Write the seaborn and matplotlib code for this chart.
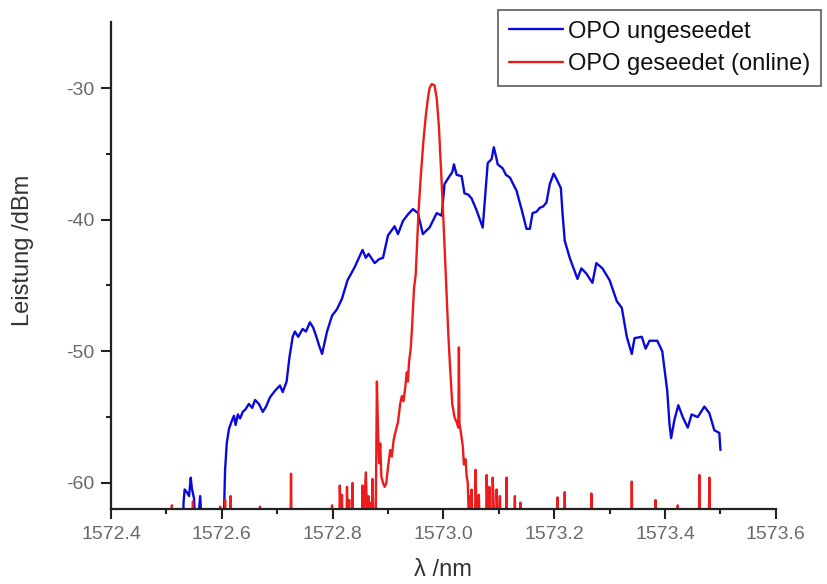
import numpy as np
import pandas as pd
import matplotlib
matplotlib.use("Agg")
import matplotlib.pyplot as plt
from matplotlib.ticker import MultipleLocator, FormatStrFormatter
from matplotlib.lines import Line2D
import seaborn as sns

# OPO ungeseedet (blue), wavelength in nm / power in dBm, -64 = below the plot floor
blue_nm = [1572.520, 1572.530, 1572.531, 1572.533, 1572.537, 1572.541, 1572.544, 1572.546,
           1572.550, 1572.553, 1572.558, 1572.561, 1572.563, 1572.566, 1572.603, 1572.606,
           1572.609, 1572.613, 1572.618, 1572.622, 1572.625, 1572.629, 1572.633, 1572.638,
           1572.643, 1572.649, 1572.655, 1572.660, 1572.667, 1572.674, 1572.680, 1572.687,
           1572.696, 1572.705, 1572.710, 1572.717, 1572.722, 1572.728, 1572.732, 1572.738,
           1572.746, 1572.752, 1572.759, 1572.765, 1572.770, 1572.776, 1572.781, 1572.790,
           1572.799, 1572.808, 1572.817, 1572.827, 1572.840, 1572.854, 1572.860, 1572.865,
           1572.876, 1572.884, 1572.891, 1572.900, 1572.912, 1572.918, 1572.927, 1572.936,
           1572.945, 1572.954, 1572.963, 1572.970, 1572.975, 1572.988, 1572.997, 1573.002,
           1573.011, 1573.016, 1573.019, 1573.024, 1573.033, 1573.038, 1573.045, 1573.051,
           1573.060, 1573.071, 1573.074, 1573.078, 1573.080, 1573.087, 1573.091, 1573.095,
           1573.098, 1573.107, 1573.113, 1573.120, 1573.132, 1573.141, 1573.150, 1573.156,
           1573.161, 1573.168, 1573.174, 1573.180, 1573.186, 1573.192, 1573.199, 1573.204,
           1573.212, 1573.215, 1573.219, 1573.228, 1573.242, 1573.249, 1573.258, 1573.269,
           1573.276, 1573.287, 1573.300, 1573.313, 1573.322, 1573.331, 1573.340, 1573.345,
           1573.358, 1573.365, 1573.372, 1573.386, 1573.395, 1573.404, 1573.408, 1573.411,
           1573.417, 1573.424, 1573.432, 1573.441, 1573.448, 1573.459, 1573.471, 1573.480,
           1573.489, 1573.498, 1573.500]
blue_dbm = [-64.0, -64.0, -61.5, -60.5, -60.7, -61.0, -59.6, -60.4,
            -61.2, -64.0, -62.5, -61.0, -62.5, -64.0, -64.0, -59.0,
            -57.0, -55.9, -55.3, -54.9, -55.6, -54.8, -55.1, -54.6,
            -54.4, -54.0, -54.3, -53.7, -54.0, -54.6, -54.2, -53.5,
            -53.0, -52.6, -53.1, -52.3, -50.5, -48.9, -48.5, -48.9,
            -48.3, -48.5, -47.8, -48.2, -48.8, -49.6, -50.2, -48.5,
            -47.3, -46.8, -46.0, -44.6, -43.6, -42.3, -42.9, -42.6,
            -43.3, -43.0, -42.9, -41.2, -40.5, -41.1, -40.1, -39.6,
            -39.2, -39.5, -41.1, -40.8, -40.6, -39.5, -39.7, -37.3,
            -36.7, -36.4, -35.8, -36.6, -36.7, -38.0, -38.1, -38.4,
            -39.3, -40.6, -39.0, -36.8, -35.7, -35.4, -34.5, -35.2,
            -35.8, -36.1, -36.6, -36.8, -37.8, -39.2, -40.7, -40.7,
            -39.5, -39.4, -39.1, -39.0, -38.7, -37.3, -36.5, -36.9,
            -37.6, -39.5, -41.6, -42.9, -44.5, -43.7, -44.1, -44.8,
            -43.3, -43.7, -44.6, -46.2, -46.7, -48.9, -50.2, -49.0,
            -48.9, -49.8, -49.2, -49.2, -50.0, -53.0, -55.5, -56.6,
            -55.2, -54.1, -55.0, -55.8, -54.8, -55.0, -54.2, -54.7,
            -56.0, -56.2, -57.5]

# OPO geseedet (online) (red)
red_nm = [1572.500, 1572.509, 1572.510, 1572.511, 1572.547, 1572.548, 1572.549,
          1572.596, 1572.597, 1572.598, 1572.605, 1572.606, 1572.607, 1572.615, 1572.616,
          1572.617, 1572.668, 1572.669, 1572.670, 1572.724, 1572.725, 1572.726, 1572.798,
          1572.799, 1572.800, 1572.812, 1572.813, 1572.815, 1572.817, 1572.818, 1572.825,
          1572.826, 1572.828, 1572.830, 1572.831, 1572.835, 1572.836, 1572.837, 1572.853,
          1572.854, 1572.856, 1572.860, 1572.862, 1572.865, 1572.867, 1572.869, 1572.871,
          1572.872, 1572.874, 1572.878, 1572.880, 1572.882, 1572.884, 1572.886, 1572.888,
          1572.891, 1572.894, 1572.897, 1572.900, 1572.904, 1572.907, 1572.910, 1572.913,
          1572.918, 1572.922, 1572.925, 1572.928, 1572.931, 1572.934, 1572.936, 1572.938,
          1572.941, 1572.943, 1572.945, 1572.947, 1572.950, 1572.955, 1572.959, 1572.964,
          1572.968, 1572.972, 1572.975, 1572.979, 1572.984, 1572.988, 1572.992, 1572.995,
          1572.997, 1573.000, 1573.003, 1573.006, 1573.009, 1573.012, 1573.016, 1573.020,
          1573.024, 1573.027, 1573.028, 1573.029, 1573.031, 1573.033, 1573.035, 1573.037,
          1573.040, 1573.042, 1573.044, 1573.046, 1573.048, 1573.050, 1573.051, 1573.053,
          1573.057, 1573.058, 1573.060, 1573.063, 1573.064, 1573.066, 1573.077, 1573.078,
          1573.080, 1573.082, 1573.083, 1573.085, 1573.088, 1573.089, 1573.091, 1573.095,
          1573.096, 1573.098, 1573.101, 1573.102, 1573.104, 1573.113, 1573.114, 1573.115,
          1573.128, 1573.129, 1573.130, 1573.138, 1573.139, 1573.140, 1573.205, 1573.206,
          1573.207, 1573.218, 1573.219, 1573.220, 1573.266, 1573.267, 1573.268, 1573.339,
          1573.340, 1573.341, 1573.382, 1573.383, 1573.384, 1573.422, 1573.423, 1573.424,
          1573.461, 1573.462, 1573.463, 1573.479, 1573.480, 1573.481, 1573.500]
red_dbm = [-64.0, -64.0, -61.7, -64.0, -64.0, -61.4, -64.0,
           -64.0, -61.8, -64.0, -64.0, -61.3, -64.0, -64.0, -61.0,
           -64.0, -64.0, -61.8, -64.0, -64.0, -59.3, -64.0, -64.0,
           -61.7, -64.0, -64.0, -60.2, -62.5, -60.9, -64.0, -64.0,
           -60.3, -64.0, -61.3, -64.0, -64.0, -60.0, -64.0, -64.0,
           -60.2, -63.0, -59.2, -62.0, -61.0, -63.0, -61.5, -63.0,
           -59.7, -63.0, -62.0, -52.3, -56.0, -58.5, -57.0, -59.5,
           -60.0, -60.3, -60.0, -58.8, -57.5, -58.0, -56.8, -56.2,
           -55.4, -54.0, -53.4, -53.8, -52.8, -51.6, -52.3, -50.8,
           -49.8, -48.5, -46.8, -45.2, -44.2, -39.5, -36.8, -34.0,
           -32.2, -30.8, -30.0, -29.7, -29.8, -30.8, -33.0, -35.5,
           -37.3, -40.0, -43.0, -46.0, -48.8, -51.2, -54.0, -55.0,
           -55.4, -55.8, -49.7, -55.5, -56.0, -56.6, -57.2, -58.6,
           -58.2, -59.5, -60.0, -63.0, -61.0, -64.0, -60.5, -64.0,
           -64.0, -59.0, -62.5, -64.0, -60.9, -64.0, -64.0, -59.4,
           -62.5, -64.0, -60.3, -64.0, -64.0, -59.6, -62.0, -64.0,
           -60.5, -62.5, -64.0, -61.0, -64.0, -64.0, -59.6, -64.0,
           -64.0, -61.0, -64.0, -64.0, -61.5, -64.0, -64.0, -61.1,
           -64.0, -64.0, -60.7, -64.0, -64.0, -60.8, -64.0, -64.0,
           -59.9, -64.0, -64.0, -61.3, -64.0, -64.0, -61.7, -64.0,
           -64.0, -59.4, -64.0, -64.0, -59.6, -64.0, -64.0]

labels = ["OPO ungeseedet", "OPO geseedet (online)"]
colors = {labels[0]: "#0a0ad8", labels[1]: "#ec1c1c"}

df = pd.concat([
    pd.DataFrame({"wl": blue_nm, "p": blue_dbm, "series": labels[0]}),
    pd.DataFrame({"wl": red_nm, "p": red_dbm, "series": labels[1]}),
])

sns.set_theme(style="ticks")
plt.rcParams["font.family"] = ["Liberation Sans", "DejaVu Sans"]
plt.rcParams["axes.unicode_minus"] = False

fig = plt.figure(figsize=(8.28, 5.84), dpi=100)
ax = fig.add_axes([0.134, 0.128, 0.803, 0.834])

sns.lineplot(data=df, x="wl", y="p", hue="series", palette=colors,
             estimator=None, sort=False, linewidth=1.7, legend=False, ax=ax)

ax.set_xlim(1572.4, 1573.6)
ax.set_ylim(-62, -25)
ax.xaxis.set_major_locator(MultipleLocator(0.2))
ax.xaxis.set_minor_locator(MultipleLocator(0.1))
ax.xaxis.set_major_formatter(FormatStrFormatter("%.1f"))
ax.set_yticks([-60, -50, -40, -30])
ax.set_yticks([-55, -45, -35], minor=True)

sns.despine(ax=ax)
for s in ["left", "bottom"]:
    ax.spines[s].set_linewidth(1.6)
    ax.spines[s].set_color("#222222")
ax.tick_params(which="major", direction="out", length=7, width=1.5, color="#222222",
               labelsize=14, labelcolor="#6a6a6a", pad=5)
ax.tick_params(which="minor", direction="out", length=3.5, width=1.5, color="#222222")

ax.set_xlabel("λ /nm", fontsize=17, color="#333333")
ax.set_ylabel("Leistung /dBm", fontsize=17, color="#333333")
ax.xaxis.set_label_coords(0.5, -0.103)
ax.yaxis.set_label_coords(-0.115, 0.532)

handles = [Line2D([], [], color=colors[l], linewidth=1.7) for l in labels]
leg = fig.legend(handles, labels, loc="upper left", bbox_to_anchor=(498 / 828, 1 - 10 / 584),
                 fontsize=17, frameon=True, fancybox=False, edgecolor="#333333",
                 handlelength=2.3, handletextpad=0.2, borderpad=0.45, labelspacing=0.45,
                 borderaxespad=0)
leg.get_frame().set_linewidth(1.2)
for t in leg.get_texts():
    t.set_color("#111111")

fig.savefig("out.png", dpi=100)
